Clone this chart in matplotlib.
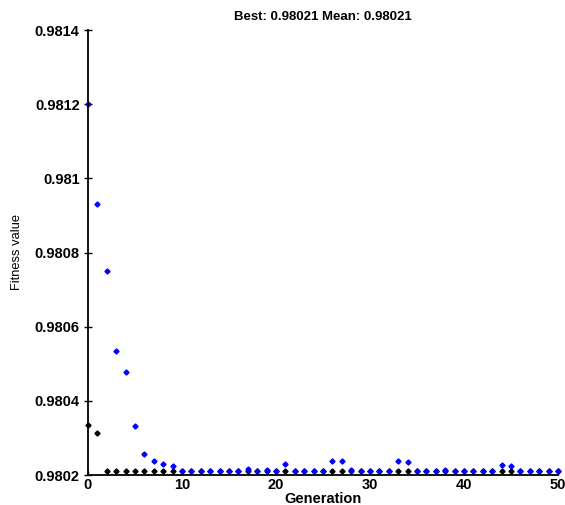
import matplotlib
matplotlib.use("Agg")
import matplotlib.pyplot as plt
import numpy as np

generations = list(range(51))
mean_fitness = [0.98120, 0.98093, 0.980749, 0.980535, 0.980478, 0.980331, 0.980256, 0.980238, 0.980229, 0.980224,
                0.98021, 0.98021, 0.98021, 0.98021, 0.98021, 0.98021, 0.98021, 0.980217, 0.98021, 0.980213,
                0.98021, 0.980229, 0.98021, 0.98021, 0.98021, 0.98021, 0.980238, 0.980238, 0.980213, 0.98021,
                0.98021, 0.98021, 0.980211, 0.980238, 0.980234, 0.98021, 0.98021, 0.98021, 0.980213, 0.980211,
                0.98021, 0.98021, 0.98021, 0.98021, 0.980227, 0.980224, 0.98021, 0.98021, 0.98021, 0.980211,
                0.98021]
best_fitness = [0.980335, 0.980314] + [0.98021] * 49

yticks = [0.9802, 0.9804, 0.9806, 0.9808, 0.9810, 0.9812, 0.9814]
ytick_labels = ["0.9802", "0.9804", "0.9806", "0.9808", "0.981", "0.9812", "0.9814"]
xticks = [0, 10, 20, 30, 40, 50]

plt.rcParams['font.family'] = ['Liberation Sans', 'DejaVu Sans']

fig = plt.figure(figsize=(5.65, 5.05), dpi=100)
ax = fig.add_axes([88/565, 1-475/505, 470/565, 445/505])
ax.plot(generations, best_fitness, linestyle='none', marker='D', markersize=2.6, color='black', clip_on=False)
ax.plot(generations, mean_fitness, linestyle='none', marker='D', markersize=2.6, color='#0000ff', clip_on=False)

ax.set_xlim(0, 50)
ax.set_ylim(0.9802, 0.9814)
ax.set_xticks(xticks)
ax.set_xticklabels([str(t) for t in xticks], fontsize=10.5, fontweight='bold')
ax.set_yticks(yticks)
ax.set_yticklabels(ytick_labels, fontsize=10.5, fontweight='bold')
ax.tick_params(axis='y', direction='inout', length=6, width=1, pad=3)
ax.tick_params(axis='x', direction='in', length=3, width=1, pad=2)
ax.spines['top'].set_visible(False)
ax.spines['right'].set_visible(False)
for s in ['left', 'bottom']:
    ax.spines[s].set_linewidth(1.3)

ax.set_title("Best: 0.98021 Mean: 0.98021", fontsize=9.5, fontweight='bold', pad=7)
ax.set_xlabel("Generation", fontsize=10.5, fontweight='bold', labelpad=0)
ax.set_ylabel("Fitness value", fontsize=9.3, fontweight='medium')
ax.yaxis.set_label_coords(-0.138, 0.5)

fig.savefig("out.png", dpi=100)
